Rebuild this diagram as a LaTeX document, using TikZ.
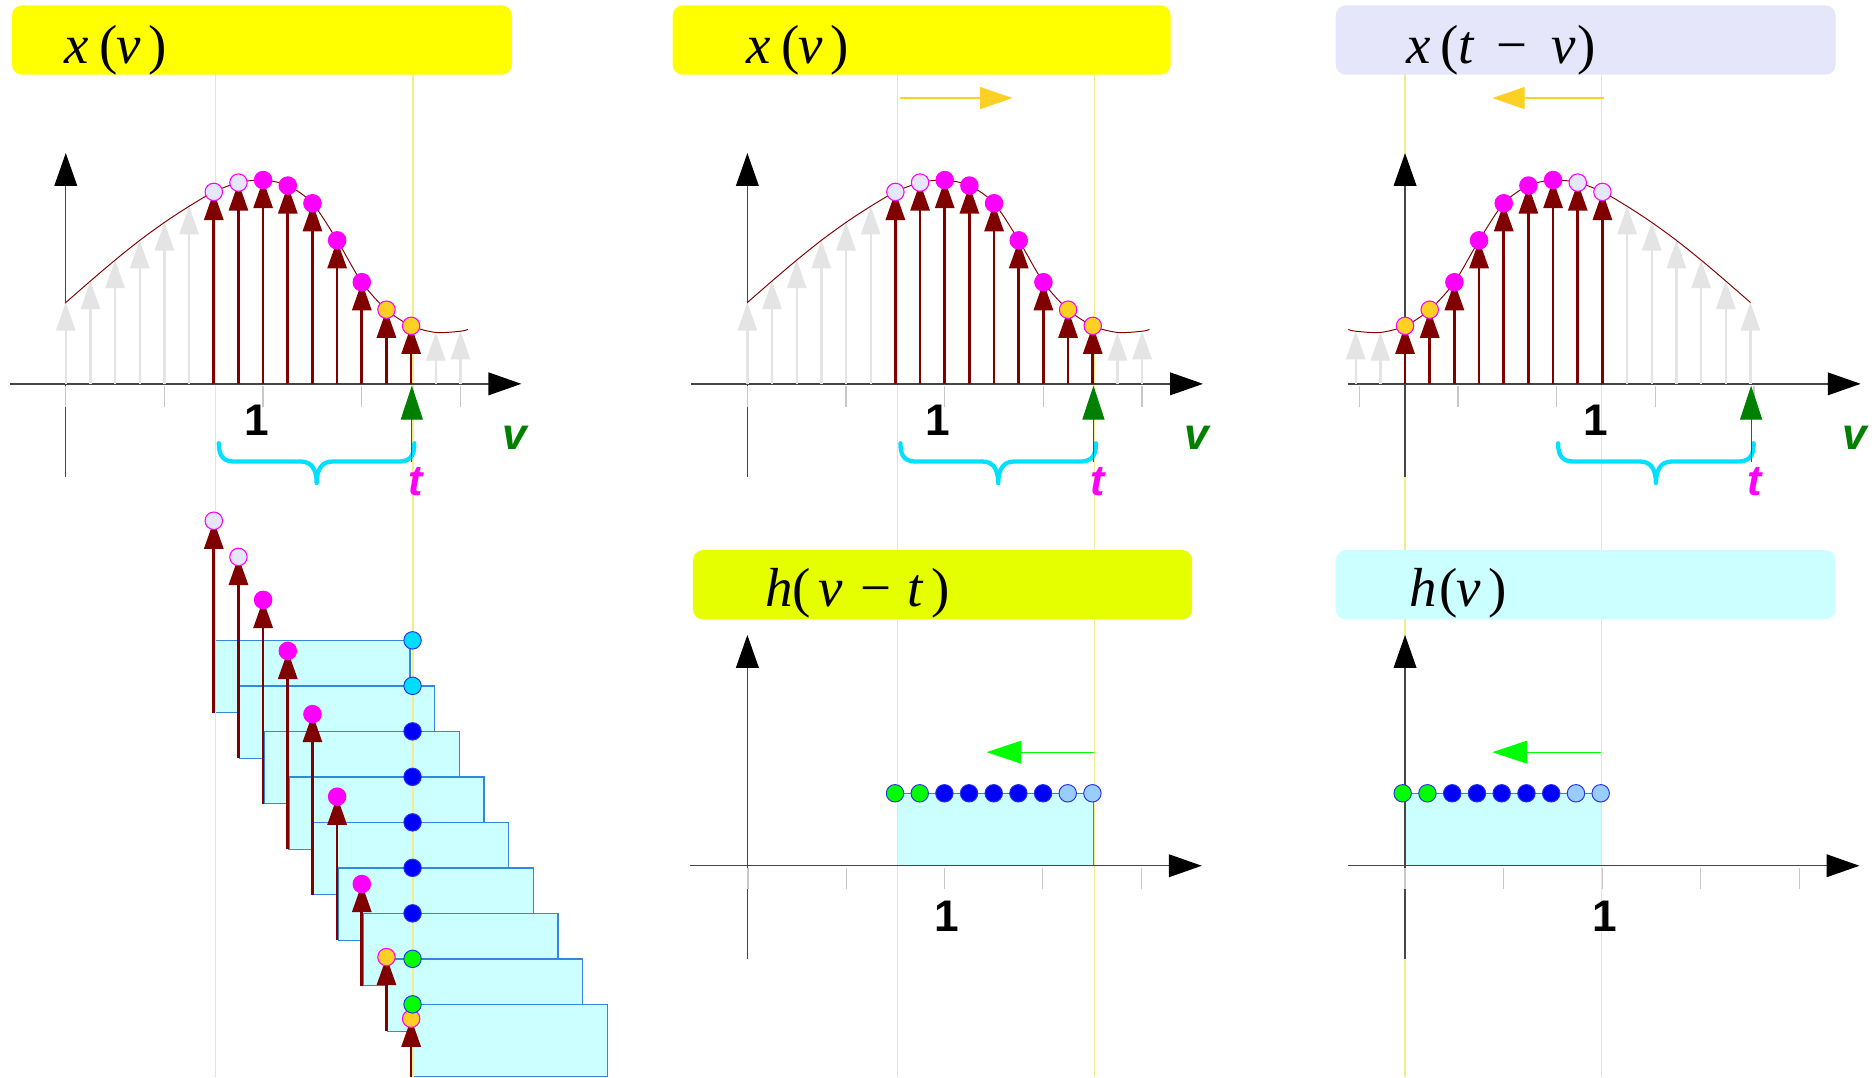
\documentclass[tikz,border=0pt]{standalone}
\usepackage{fontspec}
\setmainfont{Liberation Serif}
\newfontfamily\lsans{Liberation Sans}
\usetikzlibrary{arrows.meta}
\definecolor{maroonc}{RGB}{128,0,0}
\definecolor{lgrayc}{RGB}{228,228,228}
\definecolor{tickc}{RGB}{200,200,200}
\definecolor{axc}{RGB}{70,70,70}
\definecolor{ylwc}{RGB}{255,255,0}
\definecolor{ylwgc}{RGB}{230,255,0}
\definecolor{lavc}{RGB}{230,230,250}
\definecolor{lcyanc}{RGB}{204,255,255}
\definecolor{vlinec}{RGB}{242,236,140}
\definecolor{magc}{RGB}{255,0,255}
\definecolor{goldc}{RGB}{255,208,36}
\definecolor{bracec}{RGB}{0,224,255}
\definecolor{dgreenc}{RGB}{0,128,0}
\definecolor{bgreenc}{RGB}{0,255,0}
\definecolor{rectc}{RGB}{51,136,221}
\definecolor{dotedgec}{RGB}{40,50,230}
\definecolor{bluec}{RGB}{0,0,255}
\definecolor{lbluec}{RGB}{153,204,255}
\definecolor{cyanc}{RGB}{0,221,255}

\def\H{{68,86,103.5,120,135,148.5,160.5,168.3,170.4,165.8,151,120,85,62,48.5,43,44}}

\tikzset{
  redstem/.style={maroonc,line width=2.2pt,-{Triangle[length=23.5pt,width=16pt]}},
  graystem/.style={lgrayc,line width=2pt,-{Triangle[length=23.5pt,width=16pt]}},
  sigcurve/.style={maroonc,line width=0.8pt},
  axisline/.style={axc,line width=1.1pt,-{Triangle[length=27.5pt,width=19pt,color=black]}},
  tickline/.style={tickc,line width=1pt},
  vguide/.style={vlinec,line width=1pt},
  titlebox/.style={rounded corners=8.5pt},
  titletext/.style={inner sep=0pt,anchor=base west,font=\fontsize{46}{46}\selectfont},
  numlabel/.style={inner sep=0pt,anchor=base,font=\lsans\bfseries\fontsize{37}{37}\selectfont},
  vlabel/.style={inner sep=0pt,anchor=base,text=dgreenc,font=\lsans\bfseries\itshape\fontsize{37}{37}\selectfont},
  tlabel/.style={inner sep=0pt,anchor=base,text=magc,font=\lsans\bfseries\itshape\fontsize{36}{36}\selectfont},
  tarrow/.style={dgreenc,line width=1pt,-{Triangle[length=28.5pt,width=18.5pt]}},
  bracepath/.style={bracec,line width=3.6pt,line cap=round,line join=round},
  goldarrow/.style={goldc,line width=1pt,-{Triangle[length=27pt,width=18.4pt]}},
  greenarrow/.style={bgreenc,line width=1pt,-{Triangle[length=29pt,width=19pt]}},
  windowrect/.style={fill=lcyanc,draw=rectc,line width=1.1pt},
  dotmark/.style={draw=dotedgec,line width=0.8pt},
  sigdot/.style={draw=magc,line width=0.9pt},
}

\newcommand\drawsignal{%
  \foreach \k in {0,1,2,3,4,5,15,16}{%
    \pgfmathsetmacro\hk{\H[\k]}%
    \pgfmathsetmacro\xk{55+20.63*\k}%
    \draw[graystem] (\xk,321) -- (\xk,321-\hk);}%
  \draw[sigcurve] plot[smooth] coordinates {(55,253) (75.63,235) (96.26,217.5) (116.89,201) (137.52,186) (158.15,172.5) (178.78,160.5) (199.41,152.7) (220.04,150.6) (240.67,155.2) (261.3,170) (281.93,201) (302.56,236) (323.19,259) (343.82,272.5) (364.45,278) (385.08,277) (391.27,275.5)};%
  \foreach \k/\fc in {6/lavc,7/lavc,8/magc,9/magc,10/magc,11/magc,12/magc,13/goldc,14/goldc}{%
    \pgfmathsetmacro\hk{\H[\k]}%
    \pgfmathsetmacro\xk{55+20.63*\k}%
    \draw[redstem] (\xk,321) -- (\xk,321-\hk);
    \filldraw[sigdot,fill=\fc] (\xk,321-\hk) circle[radius=7.3pt];}%
}

\newcommand\drawmarks[1]{%
  \draw[bracepath] (183,370.7) .. controls (183,382) and (187,386) .. (197,386) -- (252,386) .. controls (260,386) and (264.8,392) .. (264.8,404) .. controls (264.8,392) and (269.6,386) .. (277.6,386) -- (332.5,386) .. controls (342.5,386) and (346.5,382) .. (346.5,370.7);
  \coordinate (tb#1) at (344.4,386);
  \coordinate (tt#1) at (344.4,322.5);
  \draw[tarrow] (tb#1) -- (tt#1);
  \node[numlabel] (one#1) at (214.6,363.8) {1};
  \node[vlabel] (v#1) at (430.7,376.3) {v};
  \node[tlabel] (t#1) at (347.7,414) {t};
}

\begin{document}
\begin{tikzpicture}[x=1pt,y=-1pt]
\useasboundingbox (0,0) rectangle (1568,901);
\fill[white] (0,0) rectangle (1568,901);

% window rectangles (staircase)
\foreach \j in {0,...,8}{
  \pgfmathsetmacro\xl{55+20.63*(6+\j)+1}
  \pgfmathsetmacro\xr{55+20.63*(14+\j)-1}
  \pgfmathsetmacro\yb{596+38.05*\j}
  \pgfmathsetmacro\yt{\yb-60.5}
  \filldraw[windowrect] (\xl,\yt) rectangle (\xr,\yb);
}
\filldraw[windowrect] (750.5,663.4) rectangle (914.5,724);
\filldraw[windowrect] (1174.5,663.4) rectangle (1339,724);

% guide lines
\foreach \gx in {180.3,345.3,750.3,915.3,1175,1339.5}
  \draw[vguide] (\gx,62) -- (\gx,901);

% title boxes
\fill[ylwc,titlebox] (10,4.5) rectangle (428,62.5);
\fill[ylwc,titlebox] (562.5,4.5) rectangle (979,62.5);
\fill[lavc,titlebox] (1117,4.5) rectangle (1535,62.5);
\fill[ylwgc,titlebox] (579.5,460) rectangle (997,518);
\fill[lcyanc,titlebox] (1117,460) rectangle (1535,518);

\node[titletext] (title1) at (53.5,53) {\textit{x}\hspace{9pt}(\hspace{-1pt}\textit{v}\hspace{6pt})};
\node[titletext] (title2) at (624,53) {\textit{x}\hspace{9pt}(\hspace{-1pt}\textit{v}\hspace{6pt})};
\node[titletext] (title3) at (1176,53) {\textit{x}\hspace{8pt}(\hspace{-0.5pt}\textit{t}\hspace{18pt}−\hspace{20pt}\textit{v}\hspace{1.5pt})};
\node[titletext] (title4) at (639.7,507.3) {\textit{h}\hspace{0pt}(\hspace{6pt}\textit{v}\hspace{15pt}−\hspace{13.5pt}\textit{t}\hspace{6pt})};
\node[titletext] (title5) at (1178.7,507.3) {\textit{h}\hspace{1.5pt}(\hspace{-0.5pt}\textit{v}\hspace{6pt})};

% axes
\draw[axisline] (8,321) -- (436,321);
\draw[axisline] (55,399) -- (55,128);
\draw[axisline] (578,321) -- (1006,321);
\draw[axisline] (625,399) -- (625,128);
\draw[axisline] (1127,321) -- (1556,321);
\draw[axisline] (1175,399) -- (1175,128);
\draw[axisline] (577,724) -- (1005,724);
\draw[axisline] (625,802) -- (625,531);
\draw[axisline] (1127,724) -- (1555,724);
\draw[axisline] (1175,802) -- (1175,531);

% ticks
\foreach \m in {0,...,4}{
  \draw[tickline] (55+82.5*\m,323) -- (55+82.5*\m,340.5);
  \draw[tickline] (625+82.5*\m,323) -- (625+82.5*\m,340.5);
  \draw[tickline] (1136.8+82.5*\m,323) -- (1136.8+82.5*\m,340.5);
  \draw[tickline] (625.5+82.2*\m,726) -- (625.5+82.2*\m,743.7);
  \draw[tickline] (1175+82.4*\m,726) -- (1175+82.4*\m,743.7);
}

% signals
\drawsignal
\begin{scope}[xshift=570pt]\drawsignal\end{scope}
\begin{scope}[xshift=1518.82pt,xscale=-1]\drawsignal\end{scope}

% braces, t markers, labels
\drawmarks{a}
\begin{scope}[xshift=570pt]\drawmarks{b}\end{scope}
\begin{scope}[xshift=1120pt]\drawmarks{c}\end{scope}

% shift arrows
\coordinate (ga1) at (753,82);
\coordinate (gb1) at (846.6,82);
\draw[goldarrow] (ga1) -- (gb1);
\coordinate (ga2) at (1341,82);
\coordinate (gb2) at (1248,82);
\draw[goldarrow] (ga2) -- (gb2);
\coordinate (gr1) at (915,629);
\coordinate (gl1) at (825,629);
\draw[greenarrow] (gr1) -- (gl1);
\coordinate (gr2) at (1339,629);
\coordinate (gl2) at (1248,629);
\draw[greenarrow] (gr2) -- (gl2);

% staircase stems
\foreach \j/\fc in {0/lavc,1/lavc,2/magc,3/magc,4/magc,5/magc,6/magc,7/goldc,8/goldc}{
  \pgfmathsetmacro\xs{55+20.63*(6+\j)}
  \pgfmathsetmacro\yb{596+38.05*\j}
  \pgfmathsetmacro\hk{\H[6+\j]}
  \draw[redstem] (\xs,\yb) -- (\xs,\yb-\hk);
  \filldraw[sigdot,fill=\fc] (\xs,\yb-\hk) circle[radius=7.3pt];
}
% staircase samples of the window at t
\foreach \j/\fc in {0/cyanc,1/cyanc,2/bluec,3/bluec,4/bluec,5/bluec,6/bluec,7/bgreenc,8/bgreenc}{
  \pgfmathsetmacro\yc{596+38.05*\j-60.5}
  \filldraw[dotmark,fill=\fc] (345,\yc) circle[radius=7.3pt];
}

% window samples
\foreach \i/\fc in {0/bgreenc,1/bgreenc,2/bluec,3/bluec,4/bluec,5/bluec,6/bluec,7/lbluec,8/lbluec}{
  \filldraw[dotmark,fill=\fc] (748.5+20.63*\i,663.4) circle[radius=7.3pt];
  \filldraw[dotmark,fill=\fc] (1173+20.7*\i,663.4) circle[radius=7.3pt];
}

\node[numlabel] (one5) at (792,779) {1};
\node[numlabel] (one6) at (1342,779) {1};
\end{tikzpicture}
\end{document}
